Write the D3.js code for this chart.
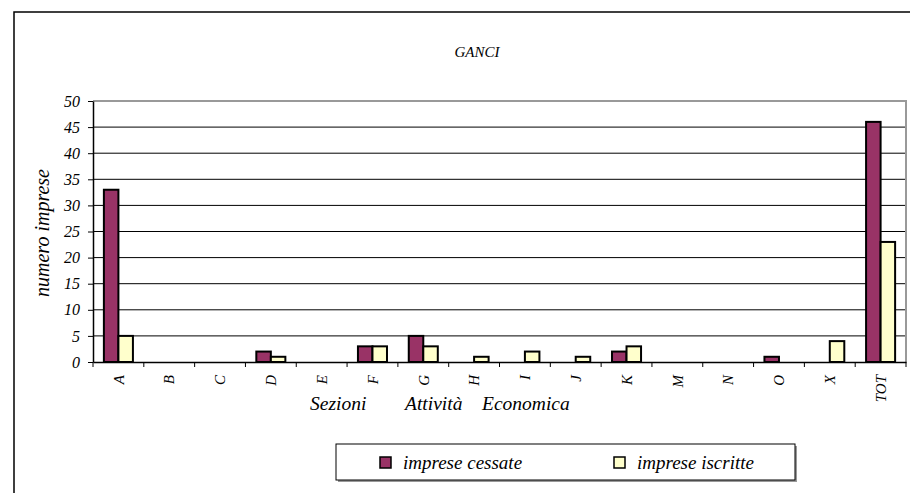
<!DOCTYPE html>
<html>
<head>
<meta charset="utf-8">
<script src="https://cdn.jsdelivr.net/npm/d3@7"></script>
<style>
  body { margin: 0; background: #fff; }
</style>
</head>
<body>
<div class="chart"></div>
<script>
var categories = ["A", "B", "C", "D", "E", "F", "G", "H", "I", "J", "K", "M", "N", "O", "X", "TOT"];
var cessate = [33, 0, 0, 2, 0, 3, 5, 0, 0, 0, 2, 0, 0, 1, 0, 46];
var iscritte = [5, 0, 0, 1, 0, 3, 3, 1, 2, 1, 3, 0, 0, 0, 4, 23];
var yTicks = [0, 5, 10, 15, 20, 25, 30, 35, 40, 45, 50];
var seriesNames = ["imprese cessate", "imprese iscritte"];
var xTitleWords = ["Sezioni", "Attività", "Economica"];
var colors = ["#993366", "#ffffcc"];

var width = 910, height = 493;
var plotLeft = 93, plotRight = 906, plotTop = 101, plotBottom = 362;
var serif = "'Liberation Serif', 'Times New Roman', Times, serif";

var svg = d3.select(".chart").append("svg")
    .attr("width", width)
    .attr("height", height);

// outer frame (runs off the page on right/bottom)
svg.append("rect")
    .attr("x", 14).attr("y", 12)
    .attr("width", 1000).attr("height", 1000)
    .attr("fill", "none").attr("stroke", "#000").attr("stroke-width", 1.5);

var x = d3.scaleBand().domain(categories).range([plotLeft, plotRight]);
var y = d3.scaleLinear().domain([0, 50]).range([plotBottom, plotTop]);
var inner = d3.scaleBand().domain([0, 1]).range([0, x.bandwidth()]).paddingOuter(0.75).paddingInner(0);

// gridlines
svg.append("g")
    .selectAll("line")
    .data(yTicks.filter(d => d > 0 && d < 50))
    .enter().append("line")
    .attr("x1", plotLeft).attr("x2", plotRight)
    .attr("y1", d => y(d)).attr("y2", d => y(d))
    .attr("stroke", "#000").attr("stroke-width", 1);

// plot area border (grey top/right)
svg.append("path")
    .attr("d", "M" + plotLeft + "," + y(50) + "H" + plotRight + "V" + plotBottom)
    .attr("fill", "none").attr("stroke", "#999").attr("stroke-width", 2);

// bars
var groups = svg.append("g")
    .selectAll("g")
    .data(categories)
    .enter().append("g")
    .attr("transform", d => "translate(" + x(d) + ",0)");

[cessate, iscritte].forEach(function (vals, s) {
    groups.filter((d, i) => vals[i] > 0)
        .append("rect")
        .attr("x", inner(s))
        .attr("width", inner.bandwidth())
        .attr("y", d => y(vals[categories.indexOf(d)]))
        .attr("height", d => plotBottom - y(vals[categories.indexOf(d)]))
        .attr("fill", colors[s])
        .attr("stroke", "#000").attr("stroke-width", 2);
});

function label(sel) {
    return sel.style("font-family", serif).style("font-style", "italic").attr("fill", "#000");
}

// y axis
var yAxis = svg.append("g")
    .attr("transform", "translate(" + plotLeft + ",0)")
    .call(d3.axisLeft(y).tickValues(yTicks).tickSize(5).tickPadding(8).tickSizeOuter(0));
yAxis.select(".domain").attr("stroke", "#000").attr("stroke-width", 1.5);
yAxis.selectAll(".tick line").attr("stroke", "#000");
yAxis.selectAll("text").call(label).style("font-size", "16px");

// x axis
var xAxis = svg.append("g")
    .attr("transform", "translate(0," + plotBottom + ")")
    .call(d3.axisBottom(x).tickSize(0).tickSizeOuter(0));
xAxis.select(".domain").attr("stroke", "#000").attr("stroke-width", 1.5);
xAxis.selectAll("text")
    .call(label)
    .style("font-size", "15px")
    .attr("text-anchor", "end")
    .attr("dy", "0.35em")
    .attr("transform", "translate(0,13) rotate(-90)")
    .attr("x", 0).attr("y", 0);

// tick marks at band edges
svg.append("g")
    .selectAll("line")
    .data(categories.map(c => x(c)).concat([plotRight]))
    .enter().append("line")
    .attr("x1", d => d).attr("x2", d => d)
    .attr("y1", plotBottom).attr("y2", plotBottom + 5)
    .attr("stroke", "#000");

// titles
svg.append("text")
    .attr("x", 477).attr("y", 57)
    .attr("text-anchor", "middle")
    .style("font-size", "15px")
    .call(label)
    .text("GANCI");

svg.append("text")
    .attr("transform", "translate(49,233) rotate(-90)")
    .attr("text-anchor", "middle")
    .style("font-size", "20px")
    .call(label)
    .text("numero imprese");

var xTitleX = [310, 405, 482];
svg.append("g")
    .selectAll("text")
    .data(xTitleWords)
    .enter().append("text")
    .attr("x", (d, i) => xTitleX[i])
    .attr("y", 410)
    .style("font-size", "19.5px")
    .call(label)
    .text(d => d);

// legend
var legend = svg.append("g");
legend.append("rect")
    .attr("x", 338).attr("y", 446).attr("width", 459).attr("height", 36)
    .attr("fill", "#999");
legend.append("rect")
    .attr("x", 336).attr("y", 444).attr("width", 459).attr("height", 36)
    .attr("fill", "#fff").attr("stroke", "#000").attr("stroke-width", 1);

var legendX = [380, 614];
seriesNames.forEach(function (name, i) {
    legend.append("rect")
        .attr("x", legendX[i]).attr("y", 457)
        .attr("width", 11).attr("height", 11)
        .attr("fill", colors[i]).attr("stroke", "#000").attr("stroke-width", 1.5);
    legend.append("text")
        .attr("x", legendX[i] + 23).attr("y", 469)
        .style("font-size", "19px")
        .call(label)
        .text(name);
});
</script>
</body>
</html>
